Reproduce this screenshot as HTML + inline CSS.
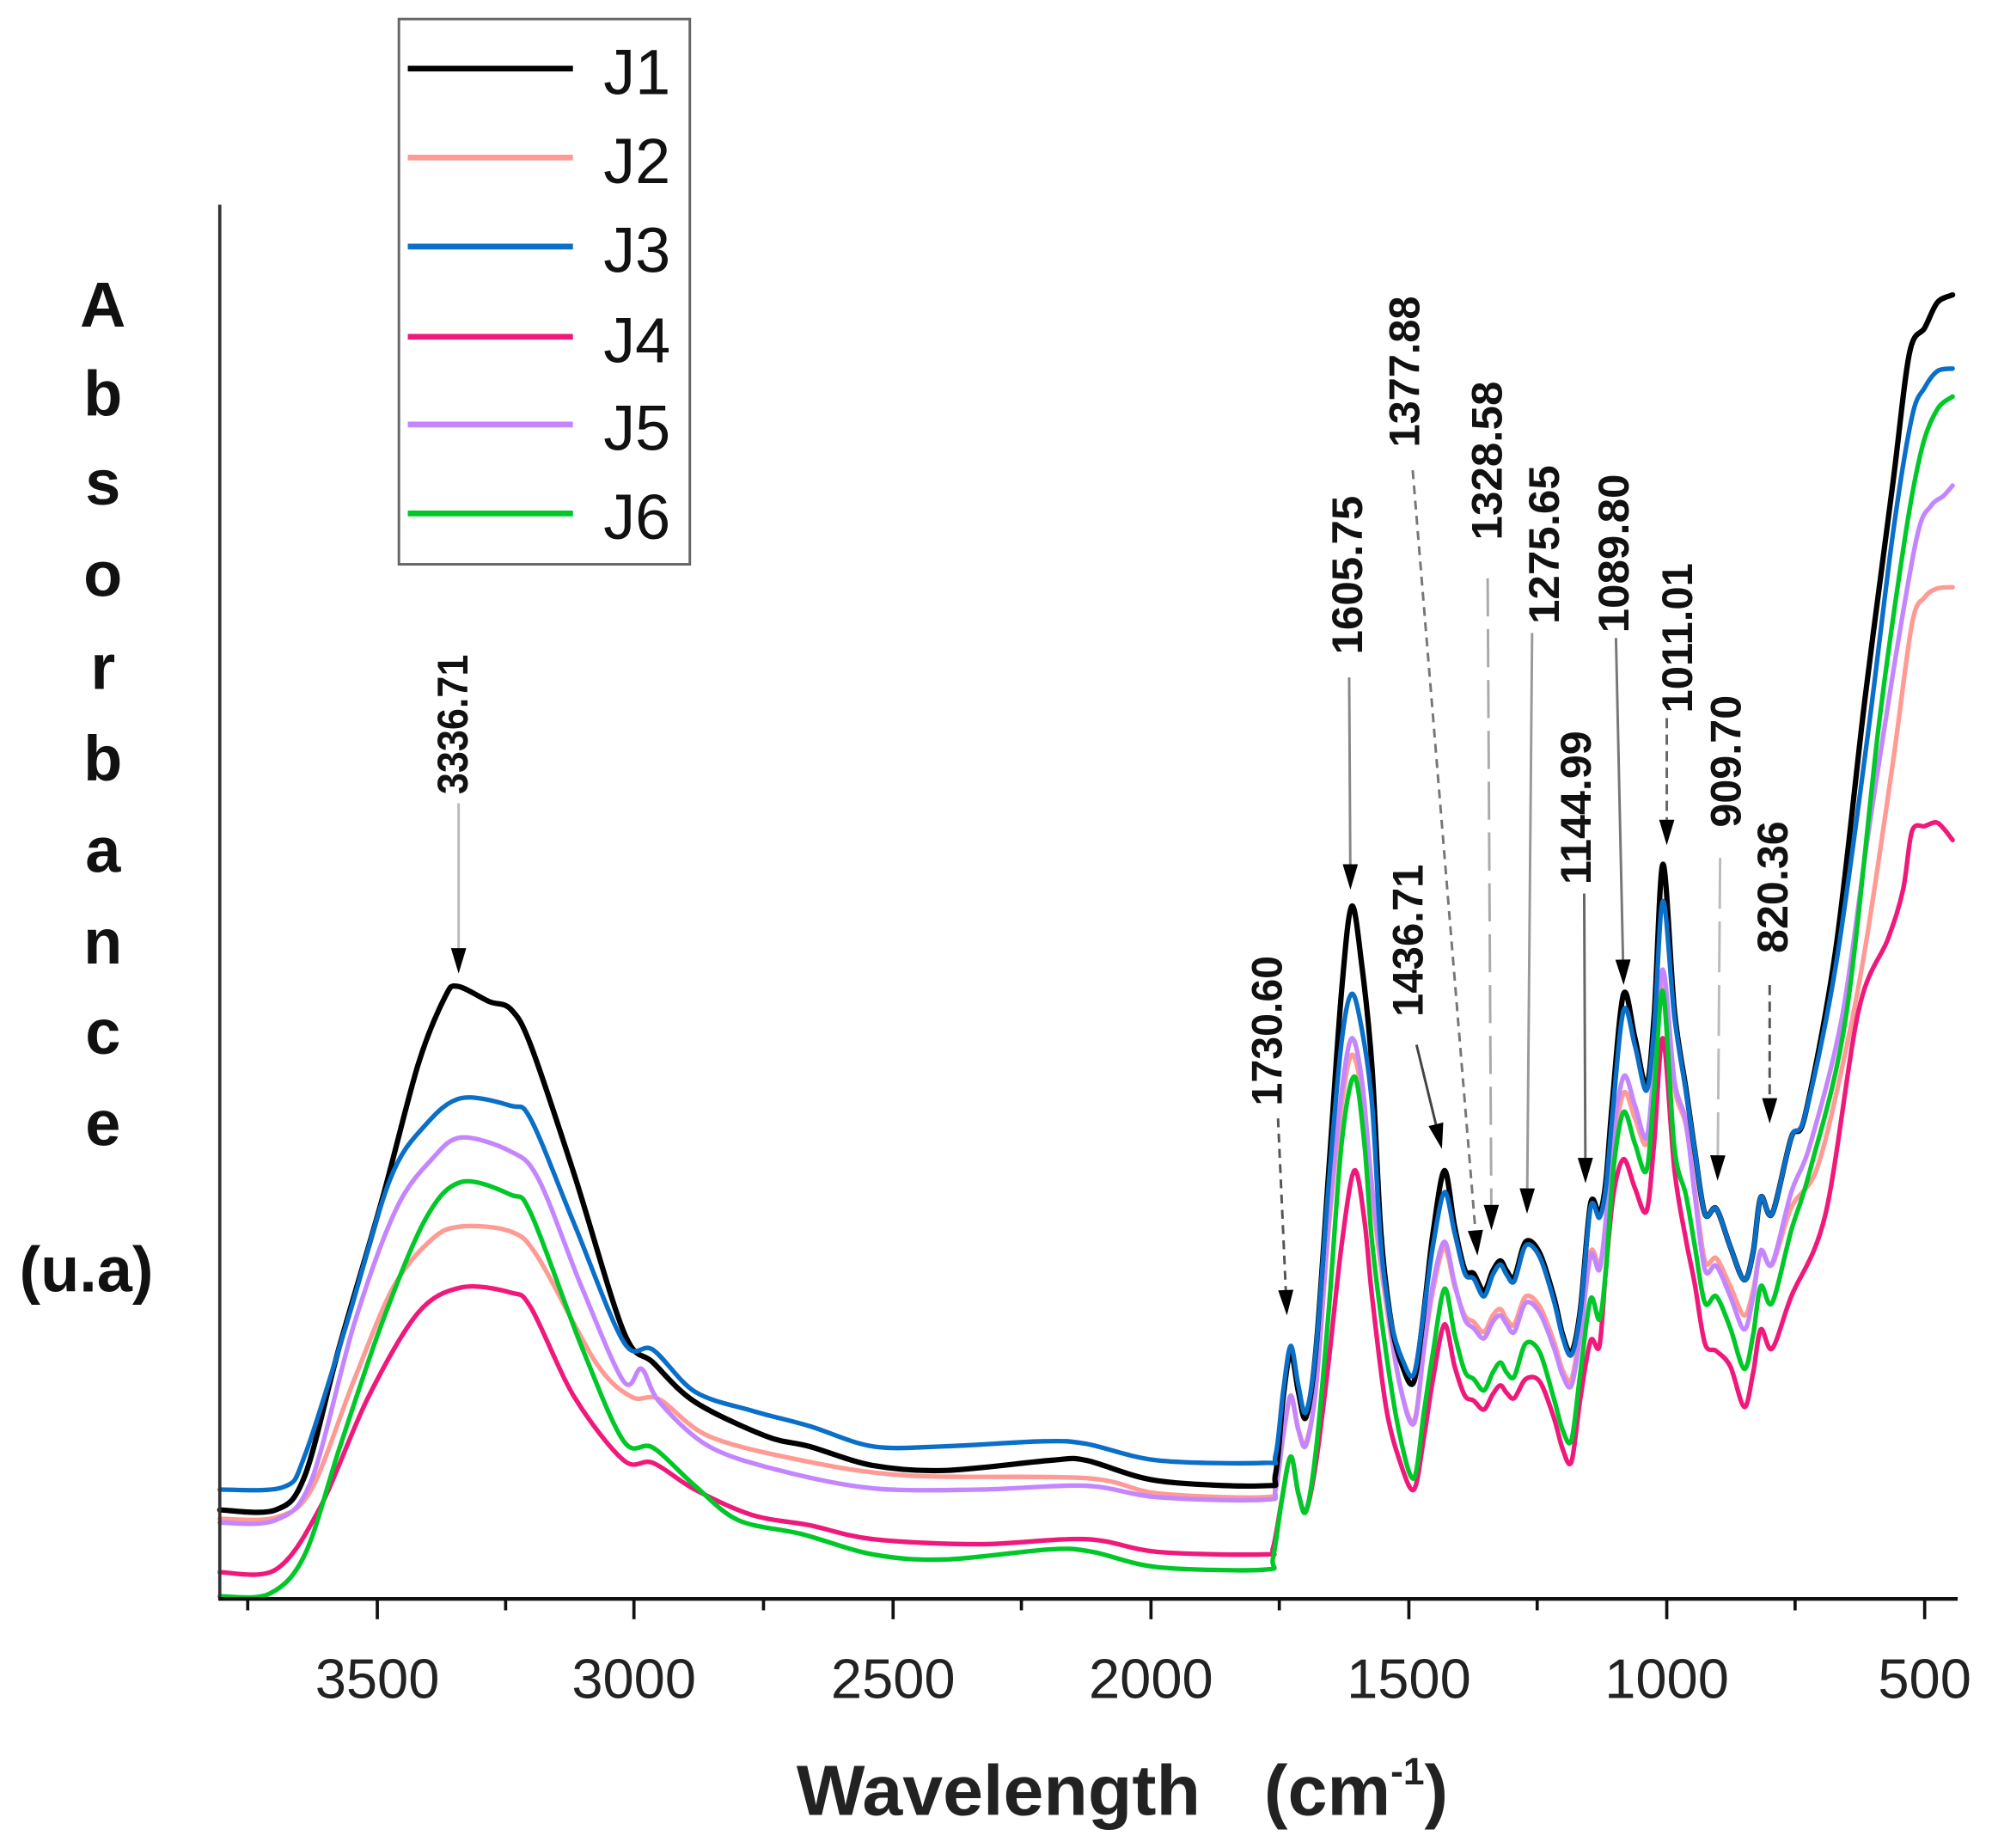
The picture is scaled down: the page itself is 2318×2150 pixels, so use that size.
<!DOCTYPE html>
<html><head><meta charset="utf-8">
<style>
html,body{margin:0;padding:0;background:#fff;}
svg{display:block;}
text{font-family:"Liberation Sans",sans-serif;}
</style></head>
<body>
<svg id="s" width="2318" height="2150" viewBox="0 0 1568 1454" preserveAspectRatio="none" xmlns="http://www.w3.org/2000/svg">
<rect width="1568" height="1454" fill="#fff"/>
<g id="curves" fill="none" stroke-linejoin="round" stroke-linecap="round"></g>
<line x1="173" y1="161" x2="173" y2="1259" stroke="#333" stroke-width="2.5"/>
<line x1="172" y1="1258" x2="1541" y2="1258" stroke="#111" stroke-width="3"/>
<g stroke="#111" stroke-width="2.5">
<line x1="297" y1="1258" x2="297" y2="1274"/><line x1="499" y1="1258" x2="499" y2="1274"/>
<line x1="703" y1="1258" x2="703" y2="1274"/><line x1="906" y1="1258" x2="906" y2="1274"/>
<line x1="1109" y1="1258" x2="1109" y2="1274"/><line x1="1312" y1="1258" x2="1312" y2="1274"/>
<line x1="1515" y1="1258" x2="1515" y2="1274"/>
<line x1="195" y1="1258" x2="195" y2="1267"/><line x1="398" y1="1258" x2="398" y2="1267"/>
<line x1="601" y1="1258" x2="601" y2="1267"/><line x1="804" y1="1258" x2="804" y2="1267"/>
<line x1="1007" y1="1258" x2="1007" y2="1267"/><line x1="1210" y1="1258" x2="1210" y2="1267"/>
<line x1="1413" y1="1258" x2="1413" y2="1267"/>
</g>
<g font-size="44" text-anchor="middle" fill="#222">
<text x="297" y="1336">3500</text><text x="499" y="1336">3000</text>
<text x="703" y="1336">2500</text><text x="906" y="1336">2000</text>
<text x="1109" y="1336">1500</text><text x="1312" y="1336">1000</text>
<text x="1515" y="1336">500</text>
</g>
<text x="627" y="1428" font-size="56" font-weight="bold" fill="#222" textLength="318" lengthAdjust="spacingAndGlyphs">Wavelength</text>
<text x="995" y="1428" font-size="56" font-weight="bold" fill="#222">(cm<tspan font-size="30" dy="-24">-1</tspan><tspan dy="24">)</tspan></text>
<g font-size="50" font-weight="bold" text-anchor="middle" fill="#111">
<text x="81" y="257">A</text><text x="81" y="327">b</text><text x="81" y="397">s</text>
<text x="81" y="469">o</text><text x="81" y="542">r</text><text x="81" y="614">b</text>
<text x="81" y="686">a</text><text x="81" y="758">n</text><text x="81" y="829">c</text>
<text x="81" y="901">e</text><text x="68" y="1016">(u.a)</text>
</g>
<rect x="314" y="15" width="229" height="429" fill="#fff" stroke="#666" stroke-width="2"/>
<g stroke-width="4.5">
<line x1="321" y1="54" x2="451" y2="54" stroke="#000"/>
<line x1="321" y1="124" x2="451" y2="124" stroke="#ff9a94"/>
<line x1="321" y1="194" x2="451" y2="194" stroke="#0a6fc8"/>
<line x1="321" y1="265" x2="451" y2="265" stroke="#f0187a"/>
<line x1="321" y1="334" x2="451" y2="334" stroke="#c486ff"/>
<line x1="321" y1="404" x2="451" y2="404" stroke="#00c828"/>
</g>
<g font-size="50" fill="#111">
<text x="475" y="74">J1</text><text x="475" y="144">J2</text><text x="475" y="214">J3</text>
<text x="475" y="285">J4</text><text x="475" y="354">J5</text><text x="475" y="424">J6</text>
</g>
<g id="ann"></g>
</svg>
<script>
const ns="http://www.w3.org/2000/svg";
function cr(p){let d="M"+p[0][0]+","+p[0][1];for(let i=0;i<p.length-1;i++){const p0=p[i-1]||p[i],p1=p[i],p2=p[i+1],p3=p[i+2]||p2;const t=0.16;
d+=" C"+(p1[0]+(p2[0]-p0[0])*t).toFixed(1)+","+(p1[1]+(p2[1]-p0[1])*t).toFixed(1)+" "+(p2[0]-(p3[0]-p1[0])*t).toFixed(1)+","+(p2[1]-(p3[1]-p1[1])*t).toFixed(1)+" "+p2[0]+","+p2[1];}return d;}
const S={
J1:[[173,1188],[217,1188],[240,1161],[267,1060],[301,943],[329,838],[350,785],[360,776],[385,788],[402,794],[418,823],[452,924],[491,1048],[514,1072],[547,1103],[603,1130],[637,1138],[687,1153],[743,1157],[827,1149],[855,1149],[911,1165],[995,1169],[1004,1160],[1010,1100],[1016,1064],[1022,1095],[1028,1115],[1036,1060],[1046,920],[1056,780],[1064,713],[1072,760],[1080,840],[1087,970],[1095,1040],[1104,1075],[1113,1087],[1121,1030],[1128,970],[1137,921],[1145,965],[1153,999],[1160,1002],[1168,1016],[1175,1000],[1181,992],[1186,1000],[1192,1005],[1201,977],[1212,986],[1223,1020],[1230,1050],[1237,1064],[1244,1030],[1252,947],[1259,955],[1264,930],[1269,869],[1278,782],[1287,817],[1296,854],[1302,800],[1309,680],[1318,795],[1327,856],[1334,905],[1342,955],[1351,951],[1362,981],[1373,1007],[1380,985],[1386,942],[1395,955],[1410,895],[1421,877],[1445,747],[1468,550],[1490,380],[1503,278],[1515,258],[1525,238],[1537,232]],
J3:[[173,1172],[223,1170],[240,1145],[273,1041],[307,928],[335,885],[363,864],[402,870],[418,881],[452,963],[491,1056],[514,1062],[547,1095],[592,1110],[637,1122],[687,1138],[743,1138],[821,1134],[855,1136],[911,1149],[995,1151],[1004,1145],[1010,1095],[1016,1059],[1022,1090],[1028,1111],[1036,1060],[1046,930],[1056,820],[1064,782],[1072,810],[1080,869],[1087,980],[1095,1040],[1104,1070],[1113,1081],[1121,1030],[1128,980],[1137,938],[1145,970],[1153,1002],[1160,1006],[1168,1020],[1175,1003],[1181,995],[1186,1003],[1192,1008],[1201,980],[1212,989],[1223,1023],[1230,1052],[1237,1066],[1244,1032],[1252,950],[1259,958],[1264,935],[1269,880],[1278,795],[1287,823],[1296,858],[1302,810],[1309,709],[1318,800],[1327,858],[1334,905],[1342,955],[1351,951],[1362,981],[1373,1007],[1380,985],[1386,942],[1395,955],[1410,895],[1421,877],[1445,760],[1470,580],[1490,420],[1505,328],[1515,305],[1525,292],[1537,290]],
J5:[[173,1198],[217,1196],[245,1165],[279,1041],[312,951],[340,912],[363,895],[402,906],[424,928],[458,1013],[491,1087],[505,1077],[519,1103],[558,1138],[614,1157],[687,1171],[771,1172],[855,1169],[911,1178],[995,1180],[1004,1172],[1010,1130],[1016,1098],[1022,1125],[1028,1137],[1036,1090],[1046,960],[1056,860],[1064,817],[1072,850],[1080,934],[1091,1020],[1102,1090],[1113,1120],[1121,1060],[1128,1010],[1137,977],[1145,1010],[1153,1038],[1160,1045],[1168,1053],[1175,1040],[1181,1035],[1186,1042],[1192,1048],[1201,1025],[1212,1033],[1223,1060],[1230,1082],[1237,1090],[1244,1050],[1252,988],[1259,999],[1264,960],[1269,900],[1278,847],[1287,870],[1296,895],[1302,840],[1309,763],[1318,850],[1327,882],[1334,940],[1342,999],[1351,996],[1362,1020],[1373,1046],[1380,1020],[1386,984],[1395,994],[1410,938],[1425,900],[1450,800],[1470,660],[1490,530],[1509,422],[1520,398],[1530,390],[1537,382]],
J2:[[173,1195],[217,1194],[245,1172],[279,1085],[310,1012],[340,975],[363,965],[402,969],[424,990],[469,1072],[497,1099],[519,1101],[558,1130],[631,1149],[715,1161],[855,1163],[911,1175],[995,1178],[1004,1170],[1010,1130],[1016,1100],[1022,1125],[1028,1135],[1036,1090],[1046,965],[1056,870],[1064,830],[1072,860],[1080,940],[1091,1025],[1102,1090],[1113,1118],[1121,1060],[1128,1015],[1137,982],[1145,1012],[1153,1035],[1160,1040],[1168,1048],[1175,1035],[1181,1030],[1186,1038],[1192,1042],[1201,1020],[1212,1028],[1223,1055],[1230,1078],[1237,1085],[1244,1045],[1252,985],[1259,995],[1264,965],[1269,910],[1278,860],[1287,880],[1296,900],[1302,850],[1309,770],[1318,855],[1327,885],[1334,935],[1342,992],[1351,990],[1362,1012],[1373,1035],[1380,1015],[1386,985],[1395,995],[1410,950],[1430,920],[1450,840],[1468,747],[1490,600],[1505,491],[1515,470],[1525,463],[1537,462]],
J6:[[173,1256],[212,1254],[240,1223],[268,1137],[301,1040],[335,959],[363,930],[402,940],[418,955],[458,1060],[491,1134],[514,1139],[547,1169],[581,1196],[631,1207],[687,1223],[743,1227],[827,1219],[860,1221],[911,1233],[995,1235],[1002,1226],[1009,1180],[1016,1146],[1022,1175],[1028,1189],[1036,1140],[1046,1030],[1056,900],[1066,847],[1074,900],[1080,977],[1091,1064],[1102,1130],[1113,1163],[1121,1110],[1128,1064],[1137,1014],[1145,1050],[1153,1079],[1160,1085],[1168,1094],[1175,1080],[1181,1072],[1186,1080],[1192,1083],[1201,1057],[1212,1064],[1223,1100],[1230,1125],[1237,1133],[1244,1080],[1252,1022],[1259,1038],[1264,1000],[1270,920],[1278,875],[1287,900],[1296,921],[1302,860],[1309,780],[1318,903],[1327,940],[1334,980],[1342,1025],[1351,1020],[1362,1045],[1373,1077],[1380,1050],[1386,1012],[1395,1025],[1410,968],[1425,920],[1453,800],[1479,570],[1500,420],[1513,352],[1525,322],[1537,312]],
J4:[[173,1237],[217,1235],[251,1188],[290,1099],[329,1033],[363,1013],[402,1017],[418,1029],[452,1099],[491,1149],[514,1151],[547,1172],[592,1192],[637,1200],[687,1211],[771,1215],[855,1211],[911,1221],[995,1223],[1002,1218],[1009,1180],[1016,1146],[1022,1175],[1028,1189],[1036,1150],[1046,1070],[1056,980],[1066,921],[1074,960],[1080,1020],[1091,1107],[1102,1150],[1113,1172],[1121,1130],[1128,1085],[1137,1042],[1145,1075],[1153,1098],[1160,1102],[1168,1109],[1175,1097],[1181,1090],[1186,1096],[1192,1100],[1201,1085],[1212,1087],[1223,1115],[1230,1140],[1237,1150],[1244,1100],[1252,1055],[1259,1059],[1264,1000],[1270,940],[1278,912],[1287,935],[1296,953],[1302,900],[1309,817],[1318,920],[1327,975],[1334,1010],[1342,1057],[1351,1063],[1362,1075],[1373,1107],[1380,1080],[1386,1046],[1395,1061],[1410,1020],[1437,955],[1463,795],[1486,739],[1498,700],[1505,654],[1515,650],[1524,647],[1530,652],[1537,661]]
};
const col={J1:"#000",J2:"#ff9a94",J3:"#0a6fc8",J4:"#f0187a",J5:"#c486ff",J6:"#00c828"};
const g=document.getElementById("curves");
["J2","J5","J4","J6","J1","J3"].forEach(k=>{const p=document.createElementNS(ns,"path");p.setAttribute("d",cr(S[k]));p.setAttribute("stroke",col[k]);p.setAttribute("stroke-width",k=="J1"?4.2:3.6);g.appendChild(p);});
const A=document.getElementById("ann");
const L=[
["3336.71",356,625,110,361,632,361,766,"","#bbb"],
["1730.60",997,870,118,1006,880,1013,1035,"7,5","#555"],
["1605.75",1060,515,125,1062,533,1063,700,"","#888"],
["1436.71",1108,800,120,1115,822,1135,904,"","#444"],
["1377.88",1105,352,119,1112,370,1163,988,"7,5","#777"],
["1328.58",1170,425,125,1171,455,1174,968,"30,10","#aaa"],
["1275.65",1215,491,125,1206,498,1202,955,"","#999"],
["1144.99",1240,696,121,1247,703,1248,931,"","#666"],
["1089.80",1270,498,125,1272,502,1278,775,"","#777"],
["1011.01",1320,561,118,1312,565,1312,665,"8,5","#666"],
["909.70",1358,651,104,1354,675,1352,929,"40,10","#bbb"],
["820.36",1395,750,104,1393,775,1393,884,"8,5","#555"]
];
L.forEach(a=>{
 const t=document.createElementNS(ns,"text");
 t.setAttribute("transform",`translate(${a[1]+12},${a[2]}) rotate(-90)`);
 t.setAttribute("font-size","34");t.setAttribute("font-weight","bold");t.setAttribute("fill","#111");
 t.setAttribute("textLength",a[3]);t.setAttribute("lengthAdjust","spacingAndGlyphs");
 t.textContent=a[0];A.appendChild(t);
 const dx=a[6]-a[4],dy=a[7]-a[5],len=Math.hypot(dx,dy),ux=dx/len,uy=dy/len;
 const bx=a[6]-ux*20,by=a[7]-uy*20;
 const l=document.createElementNS(ns,"line");
 l.setAttribute("x1",a[4]);l.setAttribute("y1",a[5]);l.setAttribute("x2",bx);l.setAttribute("y2",by);
 l.setAttribute("stroke",a[9]);l.setAttribute("stroke-width","2");if(a[8])l.setAttribute("stroke-dasharray",a[8]);
 A.appendChild(l);
 const px=-uy,py=ux;
 const pg=document.createElementNS(ns,"polygon");
 pg.setAttribute("points",`${a[6]},${a[7]} ${bx+px*6},${by+py*6} ${bx-px*6},${by-py*6}`);
 pg.setAttribute("fill","#000");A.appendChild(pg);
});
</script>
</body></html>
